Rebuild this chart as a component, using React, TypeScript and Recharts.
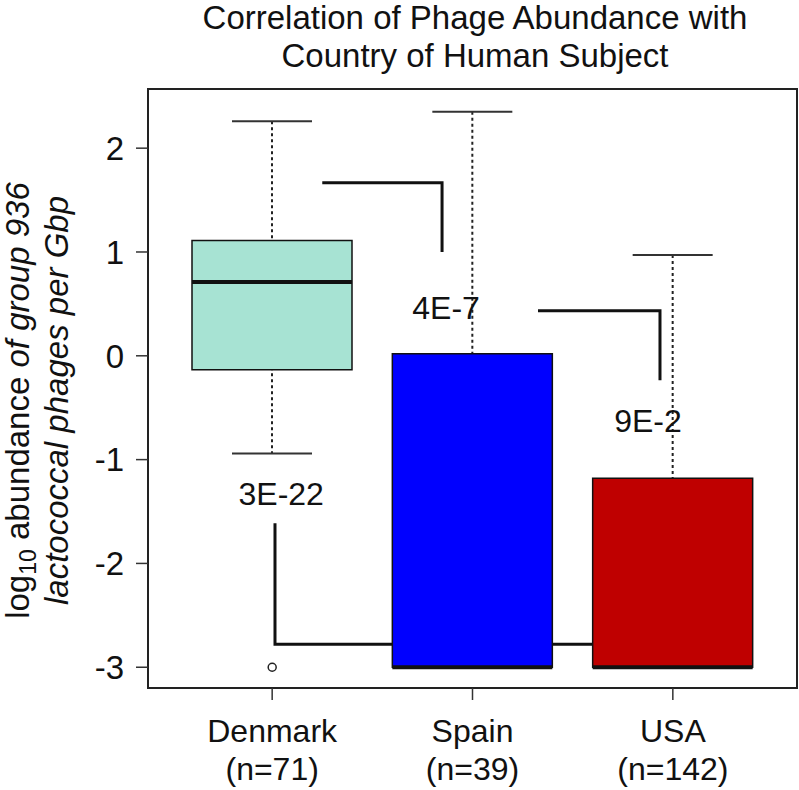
import { Bar, Cell, ComposedChart, ReferenceArea, Scatter, XAxis, YAxis } from "recharts";

const FONT = "'Liberation Sans', Arial, Helvetica, sans-serif";

const categories = ["Denmark", "Spain", "USA"];
const sampleSizes = [71, 39, 142];
const whiskerLow = [-0.94, -3.0, -3.0];
const lowerQuartile = [-0.135, -3.0, -3.0];
const medians = [0.71, -3.0, -3.0];
const upperQuartile = [1.11, 0.02, -1.18];
const whiskerHigh = [2.26, 2.35, 0.97];
const boxColors = ["#a7e3d3", "#0000ff", "#bf0000"];

const outliers = [{ pos: 1, value: -3.0 }];
const yTicks = [-3, -2, -1, 0, 1, 2];
const yDomain = [-3.2, 2.57];
const xDomain = [0.38, 3.62];

// significance brackets, in data units (x = group position)
const brackets = [
  [
    { pos: 1.25, value: 1.666 },
    { pos: 1.848, value: 1.666 },
    { pos: 1.848, value: 1.0 },
  ],
  [
    { pos: 2.327, value: 0.433 },
    { pos: 2.936, value: 0.433 },
    { pos: 2.936, value: -0.235 },
  ],
  [
    { pos: 1.014, value: -1.613 },
    { pos: 1.014, value: -2.778 },
    { pos: 2.6, value: -2.778 },
  ],
];
const pValues = [
  { label: "4E-7", pos: 1.868, value: 0.463 },
  { label: "9E-2", pos: 2.876, value: -0.625 },
  { label: "3E-22", pos: 1.045, value: -1.324 },
];

const rows = categories.map((name, i) => ({
  name,
  lo: whiskerLow[i],
  q1: lowerQuartile[i],
  med: medians[i],
  q3: upperQuartile[i],
  hi: whiskerHigh[i],
}));

const WhiskerShape = (props: any) => {
  const { x, y, width, height } = props;
  const cx = x + width / 2;
  const cap = width / 4;
  return (
    <g>
      <line x1={cx} x2={cx} y1={y} y2={y + height} stroke="#222" strokeWidth={2} strokeDasharray="3 3" />
      <line x1={cx - cap} x2={cx + cap} y1={y} y2={y} stroke="#333" strokeWidth={2} />
      <line x1={cx - cap} x2={cx + cap} y1={y + height} y2={y + height} stroke="#333" strokeWidth={2} />
    </g>
  );
};

const MedianShape = (props: any) => {
  const { x, y, width } = props;
  return <line x1={x} x2={x + width} y1={y} y2={y} stroke="#111" strokeWidth={4} />;
};

const PLabel = (props: any) => (
  <text
    x={props.cx}
    y={props.cy}
    dy="0.36em"
    textAnchor="middle"
    fontFamily={FONT}
    fontSize={32}
    fill="#111"
  >
    {props.payload.label}
  </text>
);

const CategoryTick = (props: any) => {
  const { x, y, payload } = props;
  const n = sampleSizes[categories.indexOf(payload.value)];
  return (
    <g fontFamily={FONT} fontSize={32} fill="#111">
      <text x={x} y={y + 42} textAnchor="middle">
        {payload.value}
      </text>
      <text x={x} y={y + 80} textAnchor="middle">
        (n={n})
      </text>
    </g>
  );
};

const YLabel = (props: any) => {
  const vb = props.viewBox;
  const cy = vb.y + vb.height / 2 + 12;
  const x1 = vb.x + 29;
  const x2 = vb.x + 68;
  return (
    <g fontFamily={FONT} fontSize={33} fill="#111">
      <text x={x1} y={cy} textAnchor="middle" transform={`rotate(-90 ${x1} ${cy})`}>
        log
        <tspan fontSize={23} dy={7}>
          10
        </tspan>
        <tspan dy={-7}> abundance </tspan>
        <tspan fontStyle="italic">of group 936</tspan>
      </text>
      <text
        x={x2}
        y={cy}
        textAnchor="middle"
        fontStyle="italic"
        transform={`rotate(-90 ${x2} ${cy})`}
      >
        lactococcal phages per Gbp
      </text>
    </g>
  );
};

export default function App() {
  return (
    <div style={{ position: "absolute", left: 0, top: 0, width: 799, height: 790, background: "#fff" }}>
      <div
        style={{
          position: "absolute",
          left: 151,
          top: -1,
          width: 648,
          textAlign: "center",
          fontFamily: FONT,
          fontSize: 33,
          lineHeight: "38px",
          color: "#111",
        }}
      >
        Correlation of Phage Abundance with
        <br />
        Country of Human Subject
      </div>
      <ComposedChart width={799} height={790} data={rows} margin={{ top: 89, right: 2, bottom: 0, left: 0 }}>
        <XAxis
          xAxisId="main"
          dataKey="name"
          type="category"
          allowDuplicatedCategory={false}
          padding={{ left: 24, right: 24 }}
          height={102}
          axisLine={false}
          tickSize={12}
          tickMargin={0}
          tickLine={{ stroke: "#333", strokeWidth: 1.5 }}
          tick={<CategoryTick />}
          interval={0}
        />
        <XAxis xAxisId="w" dataKey="name" type="category" allowDuplicatedCategory={false} padding={{ left: 24, right: 24 }} height={0} hide />
        <XAxis xAxisId="m" dataKey="name" type="category" allowDuplicatedCategory={false} padding={{ left: 24, right: 24 }} height={0} hide />
        <XAxis xAxisId="num" dataKey="pos" type="number" domain={xDomain} allowDataOverflow height={0} hide />
        <YAxis
          type="number"
          domain={yDomain}
          ticks={yTicks}
          allowDataOverflow
          width={148}
          axisLine={false}
          tickSize={12}
          tickMargin={12}
          tickLine={{ stroke: "#333", strokeWidth: 1.5 }}
          tick={{ fontSize: 33, fill: "#111", fontFamily: FONT }}
          label={{ content: YLabel }}
        />
        {brackets.map((b, i) => (
          <Scatter
            key={`br${i}`}
            xAxisId="num"
            data={b}
            dataKey="value"
            line={{ stroke: "#111", strokeWidth: 3 }}
            shape={() => <g />}
            zIndex={100}
            isAnimationActive={false}
          />
        ))}
        <Bar
          xAxisId="w"
          dataKey={(d: any) => [d.lo, d.hi]}
          barSize={160}
          shape={WhiskerShape}
          isAnimationActive={false}
        />
        <Bar
          xAxisId="main"
          dataKey={(d: any) => [d.q1, d.q3]}
          barSize={160}
          stroke="#111"
          strokeWidth={1.5}
          isAnimationActive={false}
        >
          {rows.map((r, i) => (
            <Cell key={r.name} fill={boxColors[i]} />
          ))}
        </Bar>
        <Bar
          xAxisId="m"
          dataKey={(d: any) => [d.med, d.med]}
          barSize={160}
          shape={MedianShape}
          isAnimationActive={false}
        />
        <Scatter
          xAxisId="num"
          data={outliers}
          dataKey="value"
          shape={(p: any) => <circle cx={p.cx} cy={p.cy} r={4} fill="#fff" stroke="#222" strokeWidth={1.5} />}
          isAnimationActive={false}
        />
        <Scatter xAxisId="num" data={pValues} dataKey="value" shape={PLabel} isAnimationActive={false} />
        <ReferenceArea
          xAxisId="num"
          x1={xDomain[0]}
          x2={xDomain[1]}
          y1={yDomain[0]}
          y2={yDomain[1]}
          fill="none"
          stroke="#222"
          strokeWidth={2}
        />
      </ComposedChart>
    </div>
  );
}
